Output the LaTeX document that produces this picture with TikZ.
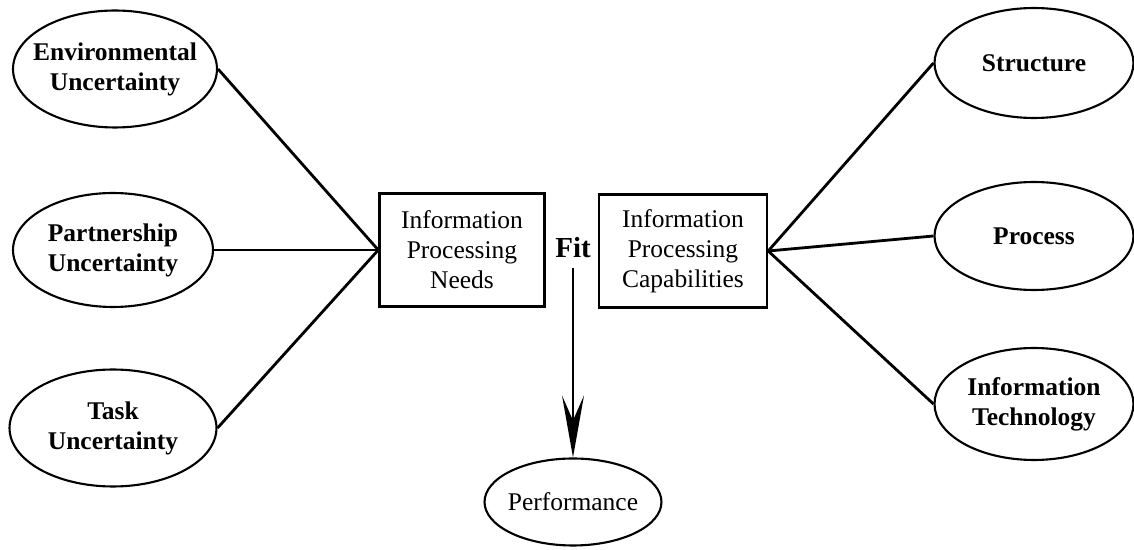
\documentclass[tikz,border=0pt]{standalone}
\usepackage{fontspec}
\setmainfont{Liberation Serif}
\usetikzlibrary{positioning,arrows.meta,shapes.geometric}

\tikzset{
  factor/.style={ellipse,draw,line width=1.2pt,inner xsep=-1cm,inner ysep=-0.4cm,align=center,
    minimum width=4.08cm,minimum height=2.34cm,
    font=\fontsize{14.5}{17}\selectfont\bfseries},
  ipbox/.style={rectangle,draw,line width=1.4pt,align=center,
    minimum width=3.3cm,minimum height=2.26cm,
    font=\fontsize{14.5}{17}\selectfont},
  link/.style={line width=1.6pt}
}

\begin{document}
\begin{tikzpicture}[x=0.02cm,y=-0.02cm]
    \useasboundingbox (0,0) rectangle (1134,550);
    % antecedents of the needs
    \node[factor] (env) at (115,69) {Environmental\\Uncertainty};
    \node[factor,minimum width=4cm,minimum height=2.28cm] (part) at (113,250) {Partnership\\Uncertainty};
    \node[factor,minimum width=4.14cm] (task) at (113,428) {Task\\Uncertainty};
    % the two boxes and the fit between them
    \node[ipbox] (needs) at (462,250) {Information\\Processing\\Needs};
    \node[ipbox,minimum width=3.36cm] (capab) at (683,251) {Information\\Processing\\Capabilities};
    \node[font=\fontsize{16.5}{18}\selectfont\bfseries] (fit) at (573,248) {Fit};
    % sources of the capabilities
    \node[factor,minimum width=3.98cm,minimum height=2.2cm] (struct) at (1034,63) {Structure};
    \node[factor,minimum width=3.98cm,minimum height=2.16cm] (proc) at (1034,236) {Process};
    \node[factor,minimum width=3.98cm,minimum height=2.24cm] (it) at (1034,404) {Information\\Technology};
    % outcome
    \node[factor,font=\fontsize{14.5}{17}\selectfont,minimum width=3.54cm,minimum height=1.74cm] (perf) at (573,502) {Performance};

    \draw[link] (env.east) -- (needs.west);
    \draw[link] (part.east) -- (needs.west);
    \draw[link] (task.east) -- (needs.west);
    \draw[link] (capab.east) -- (struct.west);
    \draw[link] (capab.east) -- (proc.west);
    \draw[link] (capab.east) -- (it.west);
    \draw[link,shorten <=2pt,-{Stealth[length=12.4mm,width=4.4mm,inset=5mm]}] (fit.south) -- (perf.north);
\end{tikzpicture}
\end{document}
